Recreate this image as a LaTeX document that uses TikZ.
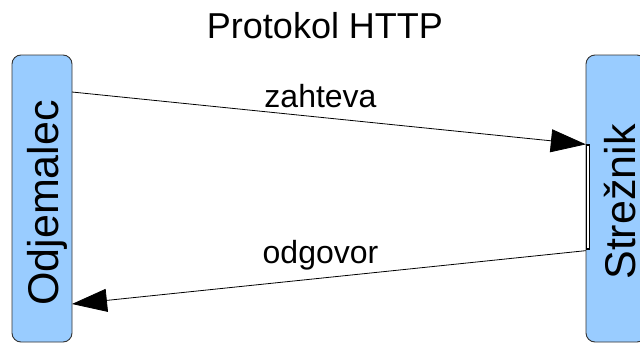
\documentclass[tikz,border=0pt]{standalone}
\usepackage{fontspec}
\setmainfont{Liberation Sans}
\usetikzlibrary{arrows.meta}
\definecolor{boxblue}{HTML}{99CCFF}
\definecolor{boxedge}{HTML}{333333}
\begin{document}
\begin{tikzpicture}[x=1pt,y=-1pt,
  lane/.style={draw=boxedge, line width=0.9pt, fill=boxblue, rounded corners=9pt,
    minimum width=60pt, minimum height=287pt, inner sep=0pt},
  lanetext/.style={rotate=90, anchor=base, inner sep=0pt, font=\fontsize{43}{50}\selectfont},
  msgtext/.style={anchor=base, inner sep=0pt, font=\fontsize{32}{36}\selectfont},
  msg/.style={line width=0.8pt, -{Triangle[length=35pt,width=23pt]}}]
\useasboundingbox (0,0) rectangle (640,343);
\node[anchor=base, inner sep=0pt, font=\fontsize{36}{42}\selectfont] (title) at (325,38) {Protokol HTTP};
\begin{scope}
\clip (0,0) rectangle (640,343);
\node[lane] (client) at (42,198.5) {};
\node[lane] (server) at (616,198.5) {};
\end{scope}
\node[lanetext] (clienttext) at (58,203) {Odjemalec};
\node[lanetext] (servertext) at (635,202) {Strežnik};
\node[draw=black, fill=white, line width=1.3pt, minimum width=3pt, minimum height=104pt, inner sep=0pt] (bar) at (588,197) {};
\coordinate (reqstart) at (72,92);
\coordinate (reqend) at (bar.north west);
\coordinate (respstart) at ([yshift=-1pt]bar.south west);
\coordinate (respend) at (72,304);
\draw[msg] (reqstart) -- (reqend);
\draw[msg] (respstart) -- (respend);
\node[msgtext] (req) at (320.5,107) {zahteva};
\node[msgtext] (resp) at (320.5,263) {odgovor};
\end{tikzpicture}
\end{document}
